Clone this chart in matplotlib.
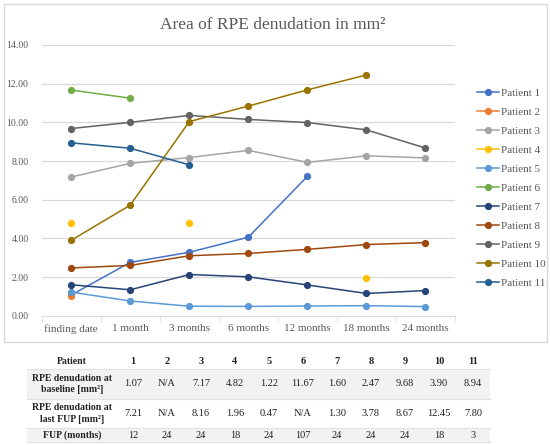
import numpy as np
import matplotlib.pyplot as plt
from matplotlib.patches import Rectangle

plt.rcParams['font.family'] = ['Liberation Serif', 'DejaVu Serif']

# chart data
timepoints = ["finding date", "1 month", "3 months", "6 months",
              "12 months", "18 months", "24 months"]
nan = np.nan
patient_1 = [1.07, 2.76, 3.28, 4.06, 7.21, nan, nan]
patient_2 = [1.00, nan, nan, nan, nan, nan, nan]
patient_3 = [7.17, 7.88, 8.18, 8.55, 7.93, 8.27, 8.16]
patient_4 = [4.82, nan, 4.82, nan, nan, 1.96, nan]
patient_5 = [1.22, 0.76, 0.49, 0.48, 0.50, 0.52, 0.47]
patient_6 = [11.67, 11.25, nan, nan, nan, nan, nan]
patient_7 = [1.60, 1.34, 2.13, 2.01, 1.59, 1.15, 1.30]
patient_8 = [2.47, 2.60, 3.10, 3.22, 3.43, 3.68, 3.78]
patient_9 = [9.68, 10.00, 10.36, 10.15, 9.99, 9.61, 8.67]
patient_10 = [3.90, 5.72, 10.04, 10.84, 11.68, 12.45, nan]
patient_11 = [8.94, 8.66, 7.80, nan, nan, nan, nan]

series = [patient_1, patient_2, patient_3, patient_4, patient_5, patient_6,
          patient_7, patient_8, patient_9, patient_10, patient_11]
names = ["Patient %d" % (i + 1) for i in range(len(series))]
colors = ["#4472C4", "#ED7D31", "#A5A5A5", "#FFC000", "#5B9BD5", "#70AD47",
          "#264478", "#9E480E", "#636363", "#997300", "#255E91"]

# table data
table_patients = ["1", "2", "3", "4", "5", "6", "7", "8", "9", "10", "11"]
baseline = ["1.07", "N/A", "7.17", "4.82", "1.22", "11.67", "1.60", "2.47", "9.68", "3.90", "8.94"]
last_fup = ["7.21", "N/A", "8.16", "1.96", "0.47", "N/A", "1.30", "3.78", "8.67", "12.45", "7.80"]
fup_months = ["12", "24", "24", "18", "24", "107", "24", "24", "24", "18", "3"]
row_labels = ["Patient", "RPE denudation at\nbaseline [mm²]",
              "RPE denudation at\nlast FUP [mm²]", "FUP (months)"]

W, H = 550, 445
fig = plt.figure(figsize=(W / 100, H / 100), dpi=100)

# background layer in pixel coordinates for border and table
bg = fig.add_axes([0, 0, 1, 1], zorder=-1)
bg.set_xlim(0, W)
bg.set_ylim(H, 0)
bg.axis("off")
bg.add_patch(Rectangle((3.5, 3.5), 543, 338, fill=False, edgecolor="#d9d9d9", lw=1))

ax = fig.add_axes([41.7 / W, 1 - 315.7 / H, (455 - 41.7) / W, (315.7 - 45) / H])
ax.set_facecolor("none")
x = np.arange(len(timepoints))
for vals, name, c in zip(series, names, colors):
    ax.plot(x, vals, color=c, lw=1.1, marker="o", markersize=4.2, label=name)

ax.set_xlim(-0.5, len(timepoints) - 0.5)
ax.set_ylim(0, 14)
ax.set_yticks(np.arange(0, 15, 2))
ax.set_yticklabels(["%.2f" % v for v in np.arange(0, 15, 2)])
ax.set_xticks(x)
ax.set_xticklabels(timepoints)
ax.set_xticks(np.arange(-0.5, len(timepoints)), minor=True)
ax.tick_params(axis="x", which="major", length=0, pad=6, labelsize=8, colors="#595959")
ax.tick_params(axis="x", which="minor", length=4, color="#d9d9d9")
ax.tick_params(axis="y", length=0, pad=9.5, labelsize=7, colors="#595959")
ax.grid(axis="y", color="#d9d9d9", lw=0.9)
ax.set_axisbelow(True)
for s in ["top", "right", "left"]:
    ax.spines[s].set_visible(False)
ax.spines["bottom"].set_color("#d9d9d9")

fig.text(273 / W, 1 - 25 / H, "Area of RPE denudation in mm²", ha="center", va="center",
         fontsize=12.5, color="#595959")

ax.legend(loc="upper left", bbox_to_anchor=(467 / W, 1 - 78.5 / H), bbox_transform=fig.transFigure,
          frameon=False, fontsize=8, handlelength=2.0, handletextpad=0.2,
          labelspacing=0.83, labelcolor="#595959")

# table
tx0, tx1 = 27, 490
row_y = [(353, 369), (369, 398.5), (398.5, 428.3), (428.3, 442)]
shade = [None, "#f2f2f2", None, "#f2f2f2"]
for (y0, y1), fc in zip(row_y, shade):
    if fc:
        bg.add_patch(Rectangle((tx0, y0), tx1 - tx0, y1 - y0, facecolor=fc, edgecolor="none"))
for yy in [369, 398.5, 428.3, 442]:
    bg.plot([tx0, tx1], [yy, yy], color="#e2e2e2", lw=0.8)

col_x = 133 + 34 * np.arange(len(table_patients))
rows = [table_patients, baseline, last_fup, fup_months]
for i, ((y0, y1), label, vals) in enumerate(zip(row_y, row_labels, rows)):
    yc = (y0 + y1) / 2
    bg.text(71.7, yc, label, ha="center", va="center", fontsize=7,
            fontweight="bold", color="#222222", linespacing=1.35)
    for cx, v in zip(col_x, vals):
        bg.text(cx, yc, v, ha="center", va="center", fontsize=7.5,
                fontweight="bold" if i == 0 else "normal", color="#222222")

fig.savefig("out.png", dpi=100)
